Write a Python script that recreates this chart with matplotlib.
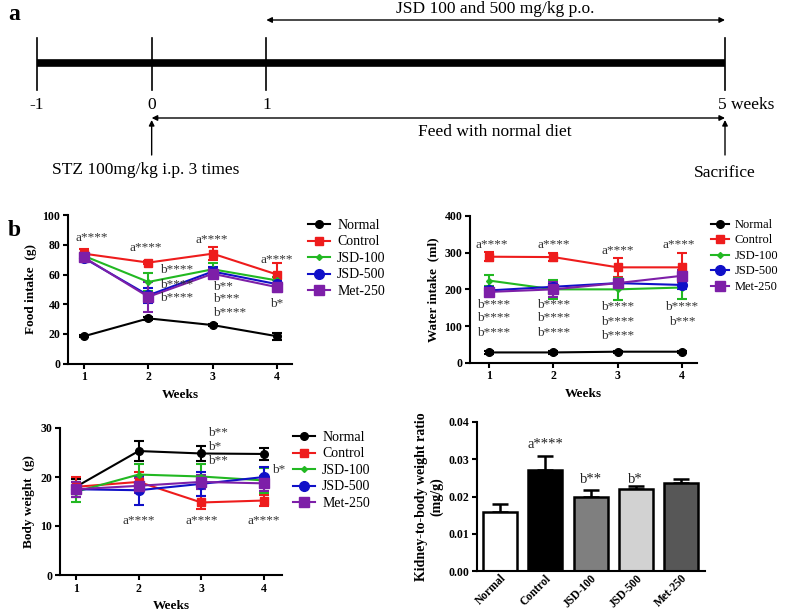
import numpy as np
import matplotlib
matplotlib.use("Agg")
import matplotlib.pyplot as plt
from matplotlib.lines import Line2D

plt.rcParams['font.family'] = ['Liberation Serif', 'DejaVu Serif']

# ---- data ----
groups = ['Normal', 'Control', 'JSD-100', 'JSD-500', 'Met-250']
colors = ['black', '#ee1c1c', '#22b822', '#1010c8', '#7d1fa8']
markers = ['o', 's', 'D', 'o', 's']
msizes = [5.5, 6, 3, 7, 7]
weeks = [1, 2, 3, 4]

food_mean = {
    'Normal':  [18.5, 30.5, 26.0, 18.5],
    'Control': [74.0, 68.0, 74.0, 60.0],
    'JSD-100': [72.5, 55.0, 63.5, 56.0],
    'JSD-500': [71.0, 46.0, 62.0, 53.5],
    'Met-250': [71.5, 45.0, 60.5, 51.5],
}
food_err = {
    'Normal':  [0.8, 1.0, 0.8, 2.5],
    'Control': [3.0, 1.2, 4.5, 7.5],
    'JSD-100': [2.0, 6.0, 4.0, 2.0],
    'JSD-500': [2.0, 5.0, 3.0, 3.0],
    'Met-250': [2.0, 10.0, 3.0, 3.0],
}
water_mean = {
    'Normal':  [28, 28, 30, 30],
    'Control': [289, 288, 260, 260],
    'JSD-100': [224, 200, 200, 205],
    'JSD-500': [197, 207, 217, 212],
    'Met-250': [193, 200, 217, 237],
}
water_err = {
    'Normal':  [3, 3, 3, 3],
    'Control': [12, 12, 25, 40],
    'JSD-100': [15, 25, 30, 30],
    'JSD-500': [10, 10, 12, 10],
    'Met-250': [8, 20, 10, 15],
}
body_mean = {
    'Normal':  [18.0, 25.3, 24.8, 24.7],
    'Control': [18.0, 19.0, 14.8, 15.2],
    'JSD-100': [17.0, 20.5, 20.1, 19.3],
    'JSD-500': [17.5, 17.3, 18.6, 20.0],
    'Met-250': [17.5, 18.2, 19.0, 18.7],
}
body_err = {
    'Normal':  [1.5, 2.0, 1.5, 1.2],
    'Control': [2.0, 2.0, 1.3, 1.2],
    'JSD-100': [2.0, 2.2, 2.5, 2.5],
    'JSD-500': [1.5, 3.0, 2.5, 2.0],
    'Met-250': [1.5, 1.5, 1.5, 1.5],
}
kidney_mean = [0.0158, 0.0270, 0.0200, 0.0219, 0.0235]
kidney_err = [0.0023, 0.0038, 0.0018, 0.0008, 0.0013]
kidney_colors = ['white', 'black', '#7f7f7f', '#d2d2d2', '#575757']

# significance labels: (x, y, text, ha)
food_notes = [(1.12, 84.5, 'a****', 'center'), (1.96, 77.8, 'a****', 'center'),
              (2.99, 83.2, 'a****', 'center'), (4.0, 69.7, 'a****', 'center'),
              (2.18, 63, 'b****', 'left'), (2.18, 53, 'b****', 'left'),
              (2.18, 44, 'b****', 'left'),
              (3.0, 51.7, 'b**', 'left'), (3.0, 43.6, 'b***', 'left'),
              (3.0, 34, 'b****', 'left'), (4.0, 40, 'b*', 'center')]
water_notes = [(1.05, 321, 'a****', 'center'), (2.0, 321, 'a****', 'center'),
               (3.0, 305, 'a****', 'center'), (3.95, 321, 'a****', 'center'),
               (1.07, 157, 'b****', 'center'), (1.07, 121, 'b****', 'center'),
               (1.07, 82, 'b****', 'center'),
               (2.0, 157, 'b****', 'center'), (2.0, 121, 'b****', 'center'),
               (2.0, 82, 'b****', 'center'),
               (3.0, 151, 'b****', 'center'), (3.0, 112, 'b****', 'center'),
               (3.0, 74, 'b****', 'center'),
               (4.0, 151, 'b****', 'center'), (4.0, 112, 'b***', 'center')]
body_notes = [(3.11, 29.0, 'b**', 'left'), (3.11, 26.2, 'b*', 'left'),
              (3.11, 23.3, 'b**', 'left'), (4.13, 21.4, 'b*', 'left'),
              (2.0, 11.1, 'a****', 'center'), (3.0, 11.1, 'a****', 'center'),
              (4.0, 11.1, 'a****', 'center')]
kidney_notes = [(1, 0.0339, 'a****'), (2, 0.0245, 'b**'), (3, 0.0245, 'b*')]

# timeline (weeks)
tl_weeks = [-1, 0, 1, 5]
tl_labels = ['-1', '0', '1', '5 weeks']

fig = plt.figure(figsize=(7.85, 6.15), dpi=100)


def style_axes(ax):
    for s in ['top', 'right']:
        ax.spines[s].set_visible(False)
    for s in ['left', 'bottom']:
        ax.spines[s].set_linewidth(1.5)
    ax.tick_params(width=1.5, length=3.5, labelsize=8.5, pad=2)
    for lbl in ax.get_xticklabels() + ax.get_yticklabels():
        lbl.set_fontweight('bold')


def line_panel(rect, means, errs, ylim, yticks, xlim, ylabel, notes, leg_xy,
               leg_size=10, leg_hl=1.6):
    ax = fig.add_axes(rect)
    handles = []
    for g, c, m, ms in zip(groups, colors, markers, msizes):
        ax.errorbar(weeks, means[g], yerr=errs[g], color=c, marker=m, ms=ms,
                    lw=1.5, elinewidth=1.5, capsize=3.5, capthick=1.5)
        handles.append(Line2D([], [], color=c, marker=m, ms=ms, lw=1.5, label=g))
    ax.set_xlim(*xlim)
    ax.set_ylim(*ylim)
    ax.set_yticks(yticks)
    ax.set_xticks(weeks)
    ax.set_xlabel('Weeks', fontsize=9.5, fontweight='bold', labelpad=4)
    ax.set_ylabel(ylabel, fontsize=9.5, fontweight='bold', labelpad=4)
    for x, y, t, ha in notes:
        ax.text(x, y, t, ha=ha, va='center', fontsize=9.5, color='#333333')
    style_axes(ax)
    ax.legend(handles=handles, loc='upper left', bbox_to_anchor=leg_xy,
              bbox_transform=fig.transFigure, frameon=False, fontsize=leg_size,
              handlelength=leg_hl, handletextpad=0.5, labelspacing=0.25 * 10 / leg_size,
              borderpad=0, borderaxespad=0)
    return ax


# ---- panel a: timeline ----
axa = fig.add_axes([0, 1 - 190 / 615, 1, 190 / 615])
axa.set_xlim(-1 - 37 / 114.67, 5 + 60 / 114.67)
axa.set_ylim(190, 0)
axa.axis('off')
axa.plot([tl_weeks[0], tl_weeks[-1]], [63, 63], color='black', lw=5.5, solid_capstyle='butt')
for w, lab in zip(tl_weeks, tl_labels):
    axa.plot([w, w], [38, 90], color='black', lw=1.2)
    if lab == '5 weeks':
        axa.text(w - 0.06, 105, lab, ha='left', va='center', fontsize=12.5)
    else:
        axa.text(w, 105, lab, ha='center', va='center', fontsize=12.5)
axa.annotate('', xy=(5, 20), xytext=(1, 20),
             arrowprops=dict(arrowstyle='<|-|>', lw=1, color='black', mutation_scale=8,
                             shrinkA=0, shrinkB=0))
axa.text(3.0, 9, 'JSD 100 and 500 mg/kg p.o.', ha='center', va='center', fontsize=12.5)
axa.annotate('', xy=(5, 118), xytext=(0, 118),
             arrowprops=dict(arrowstyle='<|-|>', lw=1, color='black', mutation_scale=8,
                             shrinkA=0, shrinkB=0))
axa.text(2.99, 132, 'Feed with normal diet', ha='center', va='center', fontsize=12.5)
for w in [0, 5]:
    axa.annotate('', xy=(w, 120), xytext=(w, 155),
                 arrowprops=dict(arrowstyle='-|>', lw=1, color='black', mutation_scale=8,
                                 shrinkA=0, shrinkB=0))
axa.text(-0.05, 170, 'STZ 100mg/kg i.p. 3 times', ha='center', va='center', fontsize=12.5)
axa.text(5.0, 173, 'Sacrifice', ha='center', va='center', fontsize=12.5)

fig.text(8 / 785, 1 - 15 / 615, 'a', fontsize=17, fontweight='bold', va='center')
fig.text(8 / 785, 1 - 230 / 615, 'b', fontsize=17, fontweight='bold', va='center')

# ---- food intake ----
line_panel([68 / 785, 1 - 363.75 / 615, 224 / 785, 148.75 / 615],
           food_mean, food_err, (0, 100), [0, 20, 40, 60, 80, 100],
           (0.751, 4.233), 'Food intake  (g)', food_notes,
           (308 / 785, 1 - 219 / 615))

# ---- water intake ----
line_panel([470 / 785, 1 - 362.7 / 615, 227 / 785, 146.7 / 615],
           water_mean, water_err, (0, 400), [0, 100, 200, 300, 400],
           (0.705, 4.233), 'Water intake  (ml)', water_notes,
           (711 / 785, 1 - 219 / 615), leg_size=9, leg_hl=1.4)

# ---- body weight ----
line_panel([60 / 785, 1 - 575 / 615, 222 / 785, 147 / 615],
           body_mean, body_err, (0, 30), [0, 10, 20, 30],
           (0.745, 4.287), 'Body weight  (g)', body_notes,
           (293 / 785, 1 - 431 / 615))

# ---- kidney ratio bars ----
axk = fig.add_axes([477 / 785, 1 - 571 / 615, 228 / 785, 149 / 615])
xpos = np.arange(len(groups))
axk.bar(xpos, kidney_mean, width=0.75, color=kidney_colors, edgecolor='black', linewidth=1.8,
        zorder=2)
axk.errorbar(xpos, kidney_mean, yerr=[np.zeros(5), kidney_err], fmt='none', ecolor='black',
             elinewidth=1.8, capsize=6, capthick=1.8, zorder=1)
axk.set_xlim(-0.51, 4.53)
axk.set_ylim(0, 0.04)
axk.set_yticks([0, 0.01, 0.02, 0.03, 0.04])
axk.set_yticklabels(['0.00', '0.01', '0.02', '0.03', '0.04'])
axk.set_xticks(xpos)
axk.set_xticklabels(groups, rotation=45, ha='right', rotation_mode='anchor')
axk.set_ylabel('Kidney-to-body weight ratio\n(mg/g)', fontsize=10, fontweight='bold',
               labelpad=4, linespacing=1.1)
for i, y, t in kidney_notes:
    axk.text(i, y, t, ha='center', va='center', fontsize=10.5, color='#222222')
style_axes(axk)
axk.tick_params(axis='x', length=0, pad=1, labelsize=8.3)

fig.savefig('out.png', dpi=100)
